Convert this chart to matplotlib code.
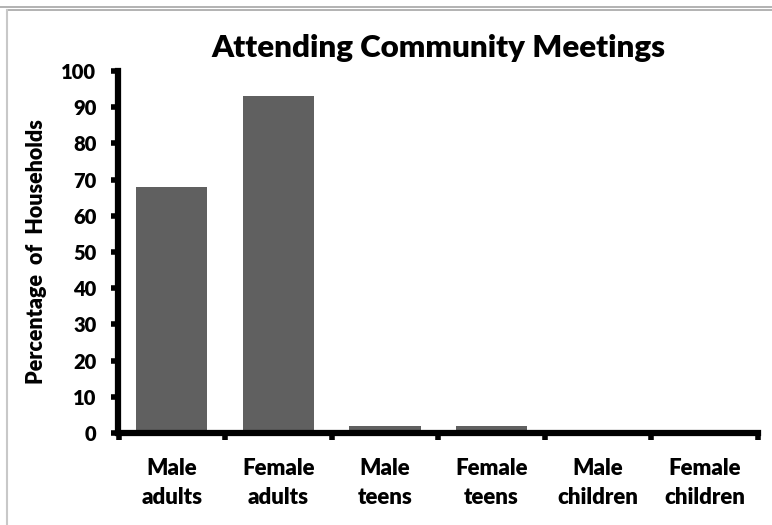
import matplotlib
matplotlib.use("Agg")
import matplotlib.pyplot as plt
from matplotlib.lines import Line2D
import numpy as np

plt.rcParams['font.family'] = ['Lato', 'DejaVu Sans']
plt.rcParams['font.weight'] = 'heavy'

categories = ["Male\nadults", "Female\nadults", "Male\nteens", "Female\nteens",
              "Male\nchildren", "Female\nchildren"]
values = [68, 93, 2, 2, 0, 0]
yticks = list(range(0, 101, 10))

fig = plt.figure(figsize=(7.72, 5.25), dpi=100)
fig.patch.set_facecolor('white')

# outer frame lines (worksheet borders)
fig.add_artist(Line2D([0, 1], [1 - 6.5 / 525, 1 - 6.5 / 525], transform=fig.transFigure,
                      color='#a6a6a6', lw=1.2))
fig.add_artist(Line2D([6.5 / 772, 1], [1 - 9.5 / 525, 1 - 9.5 / 525], transform=fig.transFigure,
                      color='#a6a6a6', lw=1.2))
fig.add_artist(Line2D([6.5 / 772, 6.5 / 772], [0, 1 - 9.5 / 525], transform=fig.transFigure,
                      color='#c8c8c8', lw=1.5))

ax = fig.add_axes([118.5 / 772, 1 - 433 / 525, (758 - 118.5) / 772, (433 - 71) / 525])

x = np.arange(len(categories))
ax.bar(x, values, width=0.667, color='#606060', zorder=2)

ax.set_xlim(-0.5, len(categories) - 0.5)
ax.set_ylim(0, 100)
ax.set_yticks(yticks)
ax.set_yticklabels([str(v) for v in yticks], fontsize=14.5, fontweight='heavy')
ax.set_xticks(x)
ax.set_xticklabels(categories, fontsize=16, fontweight='heavy', linespacing=1.45)
ax.set_xticks(np.arange(len(categories) + 1) - 0.5, minor=True)

ax.tick_params(axis='y', direction='out', length=5, width=4, pad=11)
ax.tick_params(axis='x', which='major', length=0, pad=18)
ax.tick_params(axis='x', which='minor', direction='out', length=5, width=4)

for s in ['top', 'right']:
    ax.spines[s].set_visible(False)
for s in ['left', 'bottom']:
    ax.spines[s].set_linewidth(4.5)

ax.set_ylabel("Percentage  of  Households", fontsize=15.5, fontweight='heavy', labelpad=10)
ax.set_title("Attending Community Meetings", fontsize=22.5, fontweight='heavy', pad=10)

fig.savefig("out.png", dpi=100)
